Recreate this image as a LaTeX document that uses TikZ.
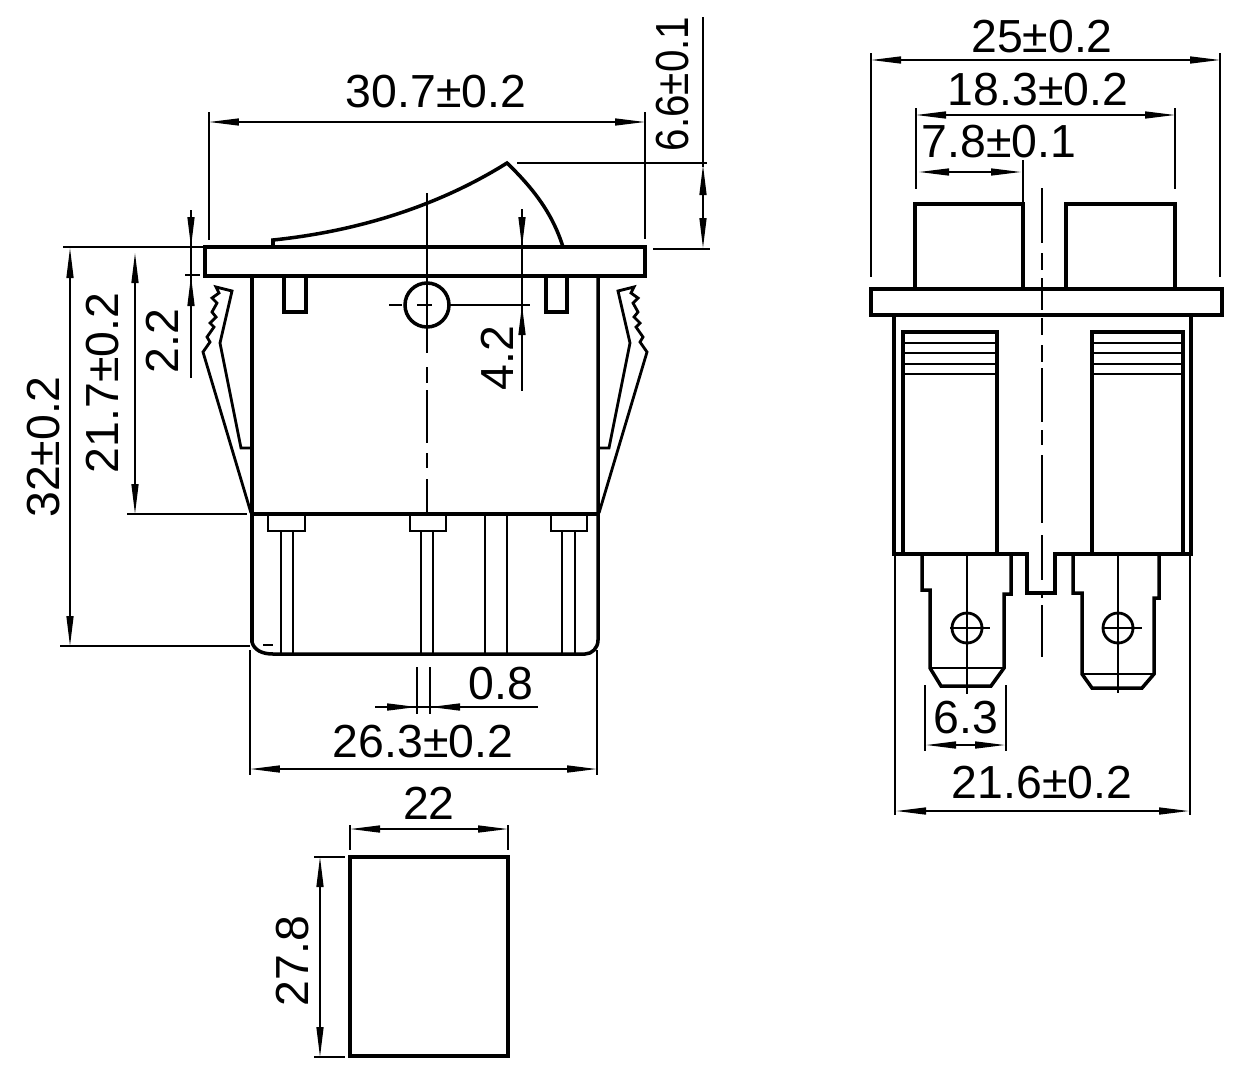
\documentclass[tikz,border=0pt]{standalone}
\usepackage{fontspec}
\setmainfont{Liberation Sans}
\usetikzlibrary{arrows.meta}

\tikzset{
	part/.style={line width=2pt,line join=miter},
	thinpart/.style={line width=1.6pt,line join=miter},
	dimline/.style={line width=0.8pt},
	dimarrow/.style={line width=0.8pt,>={Triangle[length=0.6cm,width=0.14cm]}},
	centreline/.style={line width=0.8pt},
	dimlabel/.style={font=\fontsize{26.4}{30}\selectfont,inner sep=0pt}
}

\begin{document}
\begin{tikzpicture}[x=0.02cm,y=-0.02cm]
	\useasboundingbox (0,0) rectangle (1260,1079);

	% side view: flange and rocker
	\draw [part] (205,247) rectangle (645,276);
	\draw [part] (273,247) -- (273,240) .. controls (360,231) and (440,205) .. (507,163) .. controls (535,190) and (553,215) .. (563,247);

	% side view: body and housing
	\draw [part] (252,276) -- (252,642) .. controls (254,650) and (262,654) .. (273,654) -- (585,654) .. controls (592,654) and (598,648) .. (598,640) -- (598,276);
	\draw [part] (252,514) -- (598,514);
	\draw [part] (284,276) |- (306,312) -- (306,276);
	\draw [part] (546,276) |- (567,312) -- (567,276);
	\draw [part] (427,305) circle [radius=22];
	\draw [dimline] (263,645) -- (273,645);

	% snap clips
	\foreach \s/\o in {1/0,-1/850}{
		\begin{scope}[shift={(\o,0)},xscale=\s]
			\draw [thinpart] (251,513) -- (203,352) -- (210,342) -- (207,337) -- (214,327) -- (210,323) -- (216,317) -- (212,312) -- (217,303) -- (212,298) -- (219,293) -- (216,287) -- (232,291) -- (220,343) -- (241,448) -- (251,448);
		\end{scope}
	}

	% terminals seen from the side
	\foreach \l/\r/\a/\b in {268/305/281/293,410/446/421/433,551/587/562/575}{
		\draw [thinpart] (\l,514) |- (\r,531) -- (\r,514);
		\draw [thinpart] (\a,531) -- (\a,654);
		\draw [thinpart] (\b,531) -- (\b,654);
	}
	\draw [thinpart] (485,514) -- (485,654);
	\draw [thinpart] (507,514) -- (507,654);

	% side view: centre lines
	\foreach \a/\b in {193/353,367/383,390/443,453/468,479/515}{
		\draw [centreline] (427,\a) -- (427,\b);
	}
	\draw [centreline] (389,305) -- (402,305);
	\draw [centreline] (417,305) -- (432,305);

	% side view: dimensions
	\draw [dimline] (209,112) -- (209,240);
	\draw [dimline] (645,112) -- (645,239);
	\draw [dimarrow,<->] (209,122) -- (645,122);
	\node [dimlabel] (label_width) at (436,92) {30.7±0.2};

	\draw [dimline] (517,163) -- (707,163);
	\draw [dimline] (653,249) -- (710,249);
	\draw [dimline] (703,17) -- (703,167);
	\draw [dimarrow,<->] (703,165) -- (703,248);
	\node [dimlabel,rotate=90] (label_rocker) at (673,84) {\scalebox{0.87}[1]{6.6±0.1}};

	\draw [dimline] (450,305) -- (530,305);
	\draw [dimline] (522,209) -- (522,391);
	\draw [dimarrow,->] (522,215) -- (522,247);
	\draw [dimarrow,->] (522,340) -- (522,305);
	\node [dimlabel,rotate=90] (label_pivot) at (497,358) {4.2};

	\draw [dimline] (63,247) -- (203,247);
	\draw [dimline] (60,646) -- (250,646);
	\draw [dimarrow,<->] (70,248) -- (70,646);
	\node [dimlabel,rotate=90] (label_height) at (44,447) {32±0.2};

	\draw [dimline] (127,514) -- (247,514);
	\draw [dimarrow,<->] (135,253) -- (135,514);
	\node [dimlabel,rotate=90] (label_clip) at (103,383) {21.7±0.2};

	\draw [dimline] (185,275) -- (200,275);
	\draw [dimline] (191,210) -- (191,378);
	\draw [dimarrow,->] (191,215) -- (191,247);
	\draw [dimarrow,->] (191,308) -- (191,276);
	\node [dimlabel,rotate=90] (label_flange) at (162,341) {2.2};

	\draw [dimline] (417,667) -- (417,714);
	\draw [dimline] (430,667) -- (430,714);
	\draw [dimline] (375,707) -- (538,707);
	\draw [dimarrow,->] (385,707) -- (417,707);
	\draw [dimarrow,->] (466,707) -- (430,707);
	\node [dimlabel] (label_pin) at (501,684) {0.8};

	\draw [dimline] (250,650) -- (250,775);
	\draw [dimline] (597,650) -- (597,775);
	\draw [dimarrow,<->] (250,769) -- (597,769);
	\node [dimlabel] (label_body) at (423,742) {26.3±0.2};

	% cut-out below the side view
	\draw [part] (350,857) rectangle (508,1056);
	\draw [dimline] (350,825) -- (350,850);
	\draw [dimline] (508,825) -- (508,850);
	\draw [dimarrow,<->] (350,829) -- (508,829);
	\node [dimlabel] (label_cutw) at (429,803) {22};
	\draw [dimline] (314,857) -- (345,857);
	\draw [dimline] (314,1057) -- (345,1057);
	\draw [dimarrow,<->] (320,857) -- (320,1057);
	\node [dimlabel,rotate=90] (label_cuth) at (293,961) {27.8};

	% front view: flange, rockers and body
	\draw [part] (871,289) rectangle (1222,315);
	\draw [part] (915,289) |- (1023,204) -- (1023,289);
	\draw [part] (1066,289) |- (1175,204) -- (1175,289);
	\draw [part] (894,315) -- (894,554) -- (1027,554) -- (1027,593) -- (1055,593) -- (1055,554) -- (1191,554) -- (1191,315);

	% front view: windows with ribs
	\foreach \l/\r in {903/997,1092/1183}{
		\draw [part] (\l,554) |- (\r,332) -- (\r,554);
		\foreach \y in {343,353,364,374}{
			\draw [thinpart] (\l,\y) -- (\r,\y);
		}
	}

	% front view: terminals
	\draw [part] (922,555) -- (922,590) -- (930,590) -- (930,668) -- (941,686) -- (991,686) -- (1004,668) -- (1004,594) -- (1011,594) -- (1011,555);
	\draw [thinpart] (930,668) -- (1004,668);
	\draw [thinpart] (967,628) circle [radius=15];
	\draw [part] (1073,555) -- (1073,593) -- (1082,593) -- (1082,674) -- (1092,688) -- (1142,688) -- (1154,674) -- (1154,598) -- (1159,598) -- (1159,555);
	\draw [thinpart] (1082,674) -- (1154,674);
	\draw [thinpart] (1118,628) circle [radius=15];

	% front view: centre lines
	\foreach \a/\b in {188/243,253/270,278/310,318/335,345/362,368/422,430/445,455/523,535/580,595/598,605/657}{
		\draw [centreline] (1042,\a) -- (1042,\b);
	}
	\draw [centreline] (967,555) -- (967,694);
	\draw [centreline] (950,628) -- (990,628);
	\draw [centreline] (1118,555) -- (1118,693);
	\draw [centreline] (1102,628) -- (1142,628);

	% front view: dimensions
	\draw [dimline] (871,53) -- (871,277);
	\draw [dimline] (1220,53) -- (1220,277);
	\draw [dimarrow,<->] (871,60) -- (1220,60);
	\node [dimlabel] (label_total) at (1042,37) {25±0.2};

	\draw [dimline] (916,108) -- (916,189);
	\draw [dimline] (1175,108) -- (1175,189);
	\draw [dimarrow,<->] (916,115) -- (1175,115);
	\node [dimlabel] (label_rockers) at (1038,90) {18.3±0.2};

	\draw [dimline] (1023,160) -- (1023,204);
	\draw [dimarrow,<->] (919,172) -- (1021,172);
	\node [dimlabel] (label_rocker_w) at (999,142) {7.8±0.1};

	\draw [dimline] (925,685) -- (925,751);
	\draw [dimline] (1006,685) -- (1006,751);
	\draw [dimarrow,<->] (926,745) -- (1005,745);
	\node [dimlabel] (label_tab) at (966,718) {6.3};

	\draw [dimline] (895,555) -- (895,815);
	\draw [dimline] (1190,555) -- (1190,815);
	\draw [dimarrow,<->] (896,811) -- (1189,811);
	\node [dimlabel] (label_front) at (1042,783) {21.6±0.2};
\end{tikzpicture}
\end{document}
